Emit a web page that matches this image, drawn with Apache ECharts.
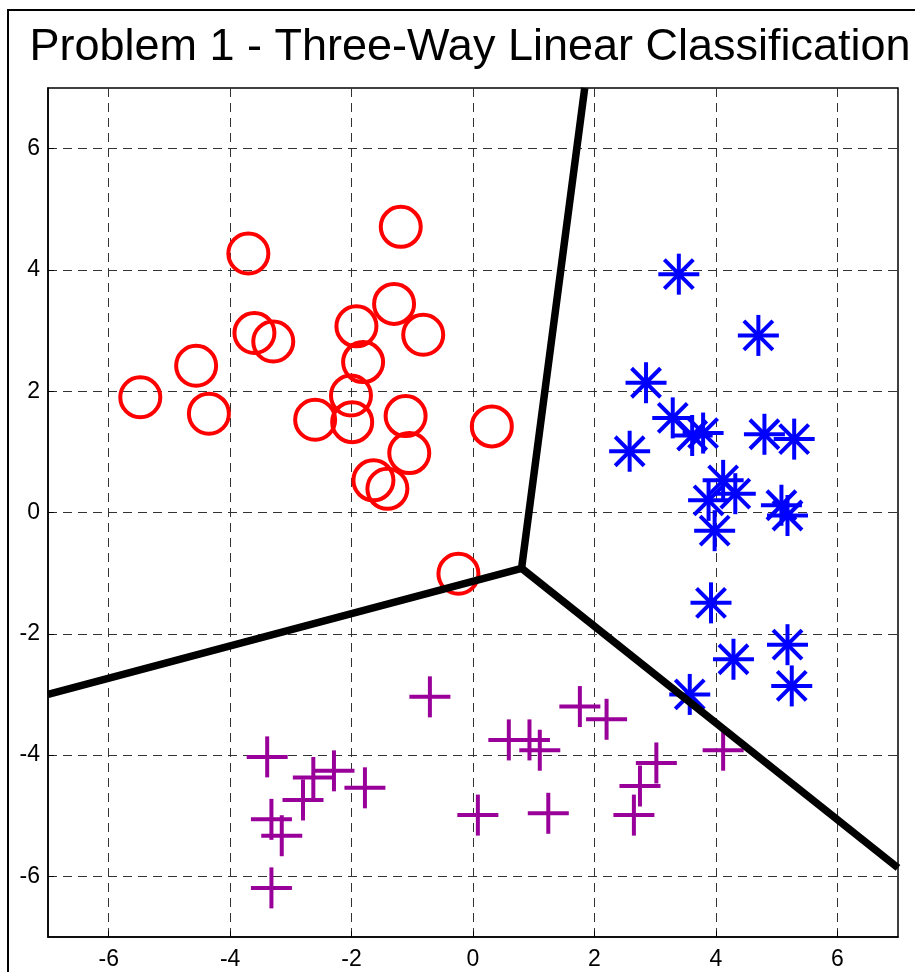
<!DOCTYPE html>
<html>
<head>
<meta charset="utf-8">
<style>
  html, body { margin: 0; padding: 0; background: #fff; }
  #chart { width: 915px; height: 972px; }
</style>
<script src="https://cdn.jsdelivr.net/npm/echarts@6/dist/echarts.min.js"></script>
</head>
<body>
<div id="chart"></div>
<script>
// Class 1 samples (red circles)
const class1 = [
  [-3.70, 4.27], [-3.60, 2.96], [-3.29, 2.82], [-4.56, 2.42], [-5.48, 1.90],
  [-4.35, 1.63], [-2.60, 1.53], [-1.19, 4.71], [-1.30, 3.44], [-1.92, 3.07],
  [-0.82, 2.93], [-1.81, 2.48], [-2.01, 1.93], [-1.99, 1.49], [-1.11, 1.59],
  [-1.05, 0.98], [-1.64, 0.53], [-1.41, 0.39], [0.31, 1.42], [-0.24, -1.01]
];
// Class 2 samples (blue asterisks)
const class2 = [
  [3.39, 3.93], [4.70, 2.92], [2.85, 2.14], [3.29, 1.56], [3.61, 1.27],
  [3.79, 1.31], [2.58, 1.01], [4.80, 1.29], [5.29, 1.21], [4.12, 0.53],
  [4.32, 0.31], [3.88, 0.20], [5.08, 0.12], [5.18, -0.05], [3.98, -0.30],
  [3.92, -1.49], [5.18, -2.18], [4.29, -2.42], [5.25, -2.86], [3.57, -3.00]
];
// Class 3 samples (purple plus signs)
const class3 = [
  [-0.71, -3.04], [-3.39, -4.03], [-2.29, -4.26], [-2.63, -4.37], [-1.78, -4.54],
  [-2.80, -4.74], [-3.32, -5.06], [-3.15, -5.33], [-3.32, -6.19], [1.76, -3.20],
  [2.20, -3.41], [0.59, -3.75], [0.93, -3.75], [1.10, -3.92], [3.02, -4.13],
  [2.75, -4.51], [0.08, -4.99], [1.24, -4.96], [2.65, -4.99], [4.12, -3.92]
];
// Decision boundaries meeting at a common junction
const junction = [0.80, -0.92];
const boundaryLeft = [-7, -3.0];
const boundaryTop = [1.84, 7];
const boundaryRight = [7, -5.86];

const axisMin = -7;
const axisMax = 7;
const tickValues = [-6, -4, -2, 0, 2, 4, 6];

const titleText = 'Problem 1 - Three-Way Linear Classification';
const fontStack = '"Liberation Sans", Arial, Helvetica, sans-serif';

const chart = echarts.init(document.getElementById('chart'), null, { renderer: 'canvas' });

const R = 20.5;  // marker half-size in pixels

function markerItem(kind, color) {
  return function (params, api) {
    const p = api.coord([api.value(0), api.value(1)]);
    const segs = [[-R, 0, R, 0], [0, -R, 0, R]];
    if (kind === 'star') {
      const d = R * Math.SQRT1_2;
      segs.push([-d, -d, d, d], [-d, d, d, -d]);
    }
    return {
      type: 'group',
      children: segs.map(s => ({
        type: 'line',
        shape: { x1: p[0] + s[0], y1: p[1] + s[1], x2: p[0] + s[2], y2: p[1] + s[3] },
        style: { stroke: color, lineWidth: 4, lineCap: 'butt' }
      }))
    };
  };
}

function valueAxis(pos) {
  return {
    type: 'value',
    position: pos,
    min: axisMin,
    max: axisMax,
    axisLine: { show: true, onZero: false, lineStyle: { color: '#000', width: 1.5 } },
    axisTick: { show: true, inside: true, length: 6, customValues: tickValues, lineStyle: { color: '#000' } },
    axisLabel: {
      customValues: tickValues,
      color: '#000',
      fontSize: 23,
      fontFamily: fontStack,
      margin: pos === 'bottom' ? 11 : 8
    },
    splitLine: { show: true, lineStyle: { color: '#333', width: 1, type: [9, 6] } }
  };
}

const option = {
  animation: false,
  backgroundColor: '#fff',
  grid: { left: 48, top: 88, width: 850, height: 849, show: true, borderColor: '#000', borderWidth: 1.5, outerBoundsMode: 'none' },
  xAxis: valueAxis('bottom'),
  yAxis: valueAxis('left'),
  graphic: [
    {
      type: 'rect',
      shape: { x: 8, y: 10, width: 1000, height: 1000 },
      style: { fill: 'none', stroke: '#000', lineWidth: 2 },
      silent: true
    },
    {
      type: 'text',
      x: 470,
      y: 48,
      style: {
        text: titleText,
        fill: '#000',
        font: '45px ' + fontStack,
        textAlign: 'center',
        textVerticalAlign: 'middle'
      },
      silent: true
    }
  ],
  series: [
    {
      type: 'scatter',
      data: class1,
      symbol: 'circle',
      symbolSize: 40,
      itemStyle: { color: 'rgba(0,0,0,0)', borderColor: '#ff0000', borderWidth: 4, opacity: 1 },
      z: 2
    },
    {
      type: 'custom',
      data: class2,
      renderItem: markerItem('star', '#0000ff'),
      z: 2
    },
    {
      type: 'custom',
      data: class3,
      renderItem: markerItem('plus', '#990099'),
      z: 2
    },
    {
      type: 'line',
      data: [boundaryLeft, junction, boundaryTop],
      symbol: 'none',
      lineStyle: { color: '#000', width: 7.5, join: 'round' },
      z: 5
    },
    {
      type: 'line',
      data: [junction, boundaryRight],
      symbol: 'none',
      lineStyle: { color: '#000', width: 7.5 },
      z: 5
    }
  ]
};

chart.setOption(option);
</script>
</body>
</html>
